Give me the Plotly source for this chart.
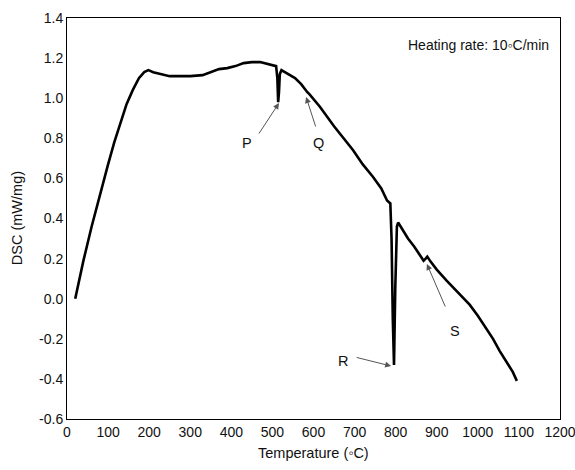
import plotly.graph_objects as go

temperature = [20, 40, 60, 80, 100, 115, 130, 145, 160, 175, 188, 198, 210, 230, 250, 280, 300, 330,
               350, 370, 390, 410, 430, 450, 470, 490, 505, 509, 512, 514, 516, 518, 522, 526,
               540, 555, 570, 580, 585, 590, 600, 616, 650, 696, 720, 745, 765, 779, 787,
               790, 793, 796, 799, 803, 806, 815, 830, 845, 860, 868, 873, 877, 885, 900,
               924, 950, 980, 1000, 1020, 1037, 1053, 1070, 1085, 1095]
dsc = [0.0, 0.19, 0.36, 0.52, 0.67, 0.78, 0.88, 0.97, 1.04, 1.10, 1.13, 1.14, 1.13, 1.12, 1.11, 1.11, 1.11, 1.115,
       1.13, 1.145, 1.15, 1.16, 1.175, 1.18, 1.18, 1.17, 1.165, 1.16, 1.10, 0.98, 1.03, 1.12, 1.14, 1.135,
       1.12, 1.10, 1.07, 1.04, 1.03, 1.02, 0.995, 0.956, 0.86, 0.742, 0.67, 0.607, 0.55, 0.49, 0.475,
       0.30, -0.10, -0.33, 0.05, 0.36, 0.38, 0.35, 0.30, 0.26, 0.21, 0.19, 0.20, 0.21, 0.185, 0.145,
       0.09, 0.035, -0.03, -0.085, -0.145, -0.2, -0.26, -0.315, -0.365, -0.41]

x_ticks = [0, 100, 200, 300, 400, 500, 600, 700, 800, 900, 1000, 1100, 1200]
y_ticks = [-0.6, -0.4, -0.2, 0.0, 0.2, 0.4, 0.6, 0.8, 1.0, 1.2, 1.4]

labels = ["P", "Q", "R", "S"]
label_x = [438, 611, 672, 944]
label_y = [0.777, 0.777, -0.31, -0.16]
arrow_x = [516, 582, 789, 876]
arrow_y = [0.976, 1.006, -0.336, 0.173]
arrow_ax = [-21, 10, -36, 19]
arrow_ay = [32, 31, -9, 44]

FAM = "Liberation Sans, Arial, sans-serif"
font = dict(family=FAM, size=14.5, color="#111")

fig = go.Figure()
fig.add_trace(go.Scatter(x=temperature, y=dsc, mode="lines",
                         line=dict(color="black", width=2.6),
                         showlegend=False, hoverinfo="skip"))

annotations = []
for t, tx, ty, hx, hy, ax, ay in zip(labels, label_x, label_y, arrow_x, arrow_y, arrow_ax, arrow_ay):
    annotations.append(dict(x=tx, y=ty, text=t, showarrow=False, font=font))
    annotations.append(dict(x=hx, y=hy, text="", showarrow=True, ax=ax, ay=ay,
                            arrowhead=2, arrowsize=1.2, arrowwidth=1, arrowcolor="#555",
                            standoff=0))
annotations.append(dict(x=1178, y=1.265, text="Heating rate: 10\u25e6C/min", showarrow=False,
                        xanchor="right", font=dict(family=FAM, size=14, color="#111")))
annotations.append(dict(xref="paper", yref="paper", x=0.5, y=-0.085, yanchor="middle",
                        text="Temperature (\u25e6C)", showarrow=False, font=font))
annotations.append(dict(xref="paper", yref="paper", x=-0.102, y=0.5, xanchor="center",
                        text="DSC (mW/mg)", textangle=-90, showarrow=False, font=font))

axis_common = dict(showline=True, mirror=True, linecolor="black", linewidth=1,
                   showgrid=False, zeroline=False, ticks="", automargin=False,
                   ticklabeloverflow="allow",
                   tickfont=dict(family=FAM, size=14, color="#111"))

fig.update_layout(
    width=575, height=470,
    margin=dict(l=67, r=15, t=18, b=51),
    paper_bgcolor="white", plot_bgcolor="white",
    xaxis=dict(range=[0, 1200], tickvals=x_ticks, ticktext=[str(v) for v in x_ticks], **axis_common),
    yaxis=dict(range=[-0.6, 1.4], tickvals=y_ticks, ticktext=[f"{v:.1f}" for v in y_ticks], **axis_common),
    annotations=annotations,
)

fig.write_html("out.html")
